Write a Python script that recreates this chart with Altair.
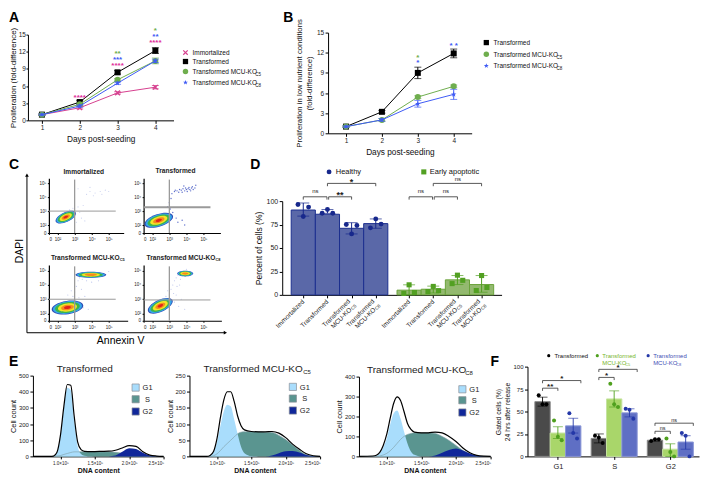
import altair as alt

FONT = "Liberation Sans"
ONE = alt.Data(values=[{"a": 1}])
W_CELL, H_CELL = 692, 465

# ---------- Panel A / B data ----------
DAYS = [1, 2, 3, 4]
A_IMM = [1, 2.2, 4.8, 5.8]
A_TR = [1, 3.2, 8.4, 12.2]
A_C5 = [1, 2.8, 7.1, 10.4]
A_C8 = [1, 2.5, 6.5, 10.4]
A_ERR_TR = [0.1, 0.3, 0.3, 0.5]
A_ERR_C5 = [0.1, 0.2, 0.2, 0.5]
A_ERR_C8 = [0.1, 0.2, 0.2, 0.3]
A_ERR_IMM = [0.1, 0.2, 0.2, 0.3]
A_STARS = [(2, 4.3, "****", "#e0309a"), (3, 9.8, "****", "#e0309a"), (3, 10.9, "***", "#3f5bf5"),
           (3, 11.9, "**", "#6fae4e"), (4, 13.9, "****", "#e0309a"), (4, 14.9, "**", "#3f5bf5"),
           (4, 16.0, "*", "#6fae4e")]

B_TR = [1, 3.2, 9.0, 11.9]
B_C5 = [1, 2.0, 5.4, 7.0]
B_C8 = [1, 2.0, 4.4, 5.8]
B_ERR_TR = [0.1, 0.2, 0.85, 0.65]
B_ERR_C5 = [0.1, 0.2, 0.2, 0.2]
B_ERR_C8 = [0.1, 0.2, 0.5, 0.75]
B_STARS = [(3, 11.5, "*", "#6fae4e"), (3, 10.7, "*", "#3f5bf5"), (4, 13.3, "* *", "#3f5bf5")]

PINK, BLACK, GREEN, BLUE = "#d6408f", "#000000", "#6fae4e", "#3f5bf5"
X_SHAPE = "M-1,-1L1,1M-1,1L1,-1"
STAR = "M0,-1.1L0.28,-0.35L1.05,-0.33L0.44,0.14L0.65,0.9L0,0.45L-0.65,0.9L-0.44,0.14L-1.05,-0.33L-0.28,-0.35Z"

# ---------- Panel C data ----------
LEVEL_COLORS = ["#2f4bb5", "#35a7e8", "#3db54a", "#f2e527", "#f58a1f", "#e2231a"]
LEVEL_SCALES = [1.0, 0.92, 0.78, 0.6, 0.4, 0.22]
# cx, cy, width (decades), aspect, tilt, levels shown
BLOBS_1 = [(2.48, 2.57, 1.29, 0.45, -25, 6)]
BLOBS_2 = [(2.38, 2.34, 1.75, 0.42, -18, 6)]
BLOBS_3 = [(2.58, 2.42, 1.87, 0.42, -8, 6), (3.95, 4.71, 1.81, 0.2, 0, 5)]
BLOBS_4 = [(2.47, 2.54, 1.58, 0.45, -25, 6), (3.93, 4.8, 0.94, 0.36, 0, 5)]
SPARSE_1 = [(3.3, 2.9), (3.5, 3.4), (3.7, 4.2), (3.9, 4.4), (4.2, 4.3), (4.5, 4.4), (4.8, 4.5), (3.2, 4.6), (3.9, 4.7),
            (3.4, 2.5), (3.6, 2.3), (3.2, 3.3), (4.1, 4.1), (4.6, 4.2), (5.0, 4.4), (2.9, 3.2), (3.1, 2.2), (2.7, 3.1)]
SPARSE_2 = [(3.15, 4.25), (3.3, 4.4), (3.35, 4.5), (3.45, 4.45), (3.55, 4.35), (3.6, 4.55), (3.7, 4.5), (3.75, 4.35),
            (3.8, 4.6), (3.9, 4.45), (3.95, 4.65), (4.0, 4.55), (4.05, 4.4), (4.1, 4.6), (4.15, 4.7), (4.2, 4.55),
            (4.25, 4.45), (4.3, 4.65), (4.35, 4.75), (4.4, 4.55), (4.5, 4.65), (4.55, 4.85), (3.85, 4.8), (3.0, 3.6),
            (3.1, 3.9), (3.2, 2.9), (3.4, 2.5), (3.5, 2.2), (3.75, 2.35), (3.9, 2.0), (2.9, 3.3), (3.05, 3.15)]
SPARSE_3 = [(3.0, 3.5), (3.1, 3.9), (3.2, 4.3), (3.3, 2.7), (3.5, 2.4), (3.6, 3.2), (2.9, 3.2), (2.8, 3.6), (2.6, 3.3),
            (3.3, 4.5), (3.45, 4.4), (5.0, 4.95), (3.8, 2.3), (3.4, 3.7), (3.7, 4.3), (4.0, 4.2), (4.4, 4.3), (3.25, 3.1)]
SPARSE_4 = [(3.0, 3.3), (3.1, 3.7), (3.2, 4.0), (3.3, 4.3), (3.4, 4.5), (3.5, 4.7), (3.6, 4.0), (3.3, 2.8), (3.55, 2.5),
            (2.9, 3.6), (3.4, 3.3), (3.7, 3.0), (3.45, 3.9), (3.25, 3.4), (3.65, 4.4), (4.0, 5.1), (3.9, 2.3), (2.8, 3.2)]

# ---------- Panel D data ----------
D_TICKS = [0.5, 1.5, 2.5, 3.5, 4.88, 5.88, 6.88, 7.88]
D_MEANS = [90.5, 86, 71, 76, 5, 6, 16, 11]
D_ERR_HI = [98, 91, 77, 81, 10.7, 9.3, 20.6, 20.6]
D_ERR_LO = [84, 87, 65, 71, 0, 2, 11, 2.8]
D_POINTS = [[96.4, 83.6, 93.6], [87, 91, 87], [75, 65, 74], [71.5, 81, 75.5],
            [1.5, 10.7, 2.5], [3.5, 9, 4.5], [12, 21, 15.5], [4.6, 20.6, 7.8]]
D_LABELS = ["Immortalized", "Transformed", None, None, "Immortalized", "Transformed", None, None]
D_SUBS = [None, None, "C5", "C8", None, None, "C5", "C8"]
D_BRACKETS = [(0.5, 1.48, 104.6), (1.55, 2.5, 104.6), (1.5, 3.5, 118.9),
              (4.88, 5.85, 104.6), (5.92, 6.88, 104.6), (5.88, 7.88, 118.9)]
D_BR_TEXT = [(1.0, 110.5, "ns", 6), (2.02, 109, "**", 9), (2.5, 122.5, "*", 9),
             (5.37, 110.5, "ns", 6), (6.4, 110.5, "ns", 6), (6.9, 124, "ns", 6)]

# ---------- Panel E data ----------
E_X = [0.6, 0.8, 0.85, 0.9, 0.95, 1.0, 1.05, 1.1, 1.15, 1.2, 1.25, 1.3, 1.35, 1.4, 1.5, 1.6, 1.7, 1.8, 1.9, 2.0, 2.1, 2.2, 2.3, 2.4, 2.5]
E1_TOT = [0, 0, 0, 2, 25, 130, 310, 445, 440, 250, 90, 42, 31, 30, 30, 31, 32, 38, 52, 66, 62, 28, 8, 2, 0]
E1_G1 = [0, 0, 0, 2, 22, 120, 295, 425, 410, 225, 65, 15, 4, 1, 0, 0, 0, 0, 0, 0, 0, 0, 0, 0, 0]
E1_S = [0, 0, 0, 0, 2, 5, 12, 18, 24, 28, 28, 28, 28, 28, 28, 28, 28, 25, 20, 15, 10, 5, 1, 0, 0]
E1_G2 = [0, 0, 0, 0, 0, 0, 0, 0, 0, 0, 0, 0, 0, 0, 0, 0, 0, 5, 28, 50, 45, 22, 6, 1, 0]
E2_TOT = [0, 0, 0, 3, 15, 55, 120, 175, 200, 200, 170, 125, 95, 82, 77, 76, 76, 77, 72, 58, 38, 22, 8, 2, 0]
E2_G1 = [0, 0, 0, 3, 12, 45, 95, 140, 160, 155, 115, 70, 30, 10, 1, 0, 0, 0, 0, 0, 0, 0, 0, 0, 0]
E2_S = [0, 0, 0, 0, 2, 8, 18, 30, 40, 50, 60, 70, 75, 76, 76, 76, 75, 74, 65, 52, 35, 18, 5, 1, 0]
E2_G2 = [0, 0, 0, 0, 0, 0, 0, 0, 0, 0, 0, 0, 0, 0, 0, 0, 0, 3, 10, 16, 17, 12, 4, 1, 0]
E3_TOT = [0, 2, 6, 20, 55, 110, 190, 265, 298, 280, 225, 165, 135, 122, 118, 118, 122, 118, 100, 75, 42, 18, 5, 1, 0]
E3_G1 = [0, 1, 4, 15, 45, 90, 160, 215, 230, 190, 125, 65, 25, 8, 0, 0, 0, 0, 0, 0, 0, 0, 0, 0, 0]
E3_S = [0, 0, 0, 2, 7, 15, 28, 45, 65, 85, 100, 110, 115, 118, 118, 118, 115, 100, 80, 55, 30, 12, 3, 0, 0]
E3_G2 = [0, 0, 0, 0, 0, 0, 0, 0, 0, 0, 0, 0, 0, 0, 0, 0, 5, 18, 32, 40, 30, 14, 4, 1, 0]

# ---------- Panel F data ----------
F_GROUP_START = [0, 3.67, 7.33]
F_GROUPS = ["G1", "S", "G2"]
F_MEANS = [[61, 26, 34], [20, 64, 48.5], [18, 8, 16]]
F_HI = [[66, 33, 42.5], [25, 73, 53], [19, 14, 23]]
F_LO = [[56, 20, 26], [15, 55, 44], [17, 0, 8]]
F_POINTS = [[[68, 58, 58], [40, 22, 18], [48, 26, 20]],
            [[23, 21, 15], [81, 58, 55], [53, 52, 42]],
            [[17, 19, 19], [20, 5, 0], [26, 23, 0]]]
F_BRACKETS = [(0.5, 1.5, 76), (0.5, 3.0, 84.5), (4.17, 5.17, 88), (4.17, 6.67, 97), (7.83, 8.83, 28), (7.83, 10.33, 37)]
F_BR_TEXT = [(1.0, 80, "**", 8), (1.75, 88.5, "*", 8), (4.67, 92, "*", 8), (5.42, 101, "*", 8), (8.33, 32, "ns", 5.5), (9.08, 41, "ns", 5.5)]

# ---------- helpers ----------
# Every panel is a page-sized cell; its scales' ranges and its axes' offsets put the plot where it belongs.
ORG = [0, 0]


def place(x0, y0):
    ORG[0], ORG[1] = x0 - 8, y0 - 8


def xrange_(w):
    return [ORG[0], ORG[0] + w]


def yrange_(h):
    return [ORG[1] + h, ORG[1]]


def axis(**kw):
    base = dict(grid=False, domainColor="black", tickColor="black", labelColor="#222222", titleColor="#111111",
                labelFont=FONT, titleFont=FONT, labelFontSize=6.5, titleFontSize=8, titleFontWeight="normal",
                tickSize=3, labelPadding=1.5, titlePadding=3, domainWidth=1, tickWidth=1)
    base.update(kw)
    return alt.Axis(**base)


def xaxis(h, **kw):
    return axis(offset=-(H_CELL - (ORG[1] + h)), **kw)


def yaxis(**kw):
    return axis(offset=-ORG[0], **kw)


def txt(x, y, text, size=6.5, color="#111111", align="left", weight="normal", angle=0, baseline="alphabetic"):
    kw = dict(text=text, fontSize=size, color=color, align=align, fontWeight=weight, font=FONT, baseline=baseline)
    if angle:
        kw["angle"] = angle
    return alt.Chart(ONE).mark_text(**kw).encode(x=alt.value(ORG[0] + x), y=alt.value(ORG[1] + y))


def sym(x, y, shape, size, color, filled=True, sw=1.2):
    return alt.Chart(ONE).mark_point(shape=shape, size=size, filled=filled, color=color, opacity=1,
                                     strokeWidth=0 if filled else sw).encode(x=alt.value(ORG[0] + x), y=alt.value(ORG[1] + y))


def hline(x1, x2, y, color="black", w=1):
    return alt.Chart(ONE).mark_rule(color=color, strokeWidth=w).encode(
        x=alt.value(ORG[0] + x1), x2=alt.value(ORG[0] + x2), y=alt.value(ORG[1] + y))


def vline(x, y1, y2, color="black", w=1):
    return alt.Chart(ONE).mark_rule(color=color, strokeWidth=w).encode(
        x=alt.value(ORG[0] + x), y=alt.value(ORG[1] + y1), y2=alt.value(ORG[1] + y2))


def lines_panel(series, stars, xs, ys, xax, yax):
    X = lambda f="x": alt.X(f + ":Q", scale=xs, axis=xax)
    Y = lambda f="y": alt.Y(f + ":Q", scale=ys, axis=yax)
    layers = []
    for vals, errs, color, shape, size, filled in series:
        rec = [dict(x=d, y=v, hi=v + e, lo=v - e) for d, v, e in zip(DAYS, vals, errs)]
        data = alt.Data(values=rec)
        layers.append(alt.Chart(data).mark_rule(color=color, strokeWidth=1).encode(x=X(), y=Y("hi"), y2=alt.Y2("lo:Q")))
        for f in ("hi", "lo"):
            layers.append(alt.Chart(data).mark_tick(color=color, orient="horizontal", size=7, thickness=1).encode(x=X(), y=Y(f)))
        layers.append(alt.Chart(data).mark_line(color=color, strokeWidth=1).encode(x=X(), y=Y()))
        layers.append(alt.Chart(data).mark_point(shape=shape, size=size, filled=filled, color=color, opacity=1,
                                                 strokeWidth=0 if filled else 1.3).encode(x=X(), y=Y()))
    rec = [dict(x=a, y=b, t=c, c=d) for a, b, c, d in stars]
    layers.append(alt.Chart(alt.Data(values=rec)).mark_text(fontSize=8, fontWeight="bold", font=FONT, dy=2).encode(
        x=X(), y=Y(), text="t:N", color=alt.Color("c:N", scale=None)))
    return layers


# ---------- Panel A ----------
place(27, 33)
A_layers = lines_panel(
    [(A_IMM, A_ERR_IMM, PINK, X_SHAPE, 22, False), (A_TR, A_ERR_TR, BLACK, "square", 36, True),
     (A_C5, A_ERR_C5, GREEN, "circle", 36, True), (A_C8, A_ERR_C8, BLUE, STAR, 26, True)],
    A_STARS,
    alt.Scale(domain=[0.63, 4.48], nice=False, zero=False, range=xrange_(146)),
    alt.Scale(domain=[0, 15], nice=False, range=yrange_(86)),
    xaxis(86, values=DAYS, title="Days post-seeding", format="d", titleFontSize=8.3, titlePadding=3),
    yaxis(values=[0, 3, 6, 9, 12, 15], title="Proliferation (fold-difference)", titlePadding=0.5, labelPadding=0.5, tickSize=2),
)
A_layers += [
    hline(-ORG[0], W_CELL - ORG[0], -ORG[1], "white", 0.01), hline(-ORG[0], W_CELL - ORG[0], H_CELL - ORG[1], "white", 0.01),
    txt(-19, -13, "A", 14, "black", weight="bold"),
    sym(158, 18, X_SHAPE, 20, PINK, False), txt(165, 20.5, "Immortalized"),
    sym(158, 27, "square", 28, BLACK), txt(165, 29.5, "Transformed"),
    sym(158, 37, "circle", 30, GREEN), txt(165, 39.5, "Transformed MCU-KO"),
    txt(228, 41.7, "C5", 4.5),
    sym(158, 48, STAR, 22, BLUE), txt(165, 50.5, "Transformed MCU-KO"),
    txt(228, 52.7, "C8", 4.5),
]
A = alt.layer(*A_layers)

# ---------- Panel B ----------
place(328, 31)
B_layers = lines_panel(
    [(B_TR, B_ERR_TR, BLACK, "square", 36, True), (B_C5, B_ERR_C5, GREEN, "circle", 36, True), (B_C8, B_ERR_C8, BLUE, STAR, 26, True)],
    B_STARS,
    alt.Scale(domain=[0.5, 4.5], nice=False, zero=False, range=xrange_(144)),
    alt.Scale(domain=[0, 15], nice=False, range=yrange_(101)),
    xaxis(101, values=DAYS, title="Days post-seeding", format="d", titleFontSize=8.3, titlePadding=3),
    yaxis(values=[0, 3, 6, 9, 12, 15], title=["Proliferation in low nutrient conditions", "(fold-difference)"],
          titleFontSize=7.8, titlePadding=3),
)
B_layers += [
    txt(-45, -11, "B", 14, "black", weight="bold"),
    sym(158.7, 10, "square", 28, BLACK), txt(166, 12.5, "Transformed"),
    sym(158.7, 21.7, "circle", 30, GREEN), txt(166, 24, "Transformed MCU-KO"),
    txt(229, 26.2, "C5", 4.5),
    sym(158.7, 33.3, STAR, 22, BLUE), txt(166, 35.5, "Transformed MCU-KO"),
    txt(229, 37.7, "C8", 4.5),
]
B = alt.layer(*B_layers)


# ---------- Panel C ----------
def ell(a):
    c = round(a * 0.55, 3)
    return f"M-1,0C-1,{-c},-.55,{-a},0,{-a}C.55,{-a},1,{-c},1,0C1,{c},.55,{a},0,{a}C-.55,{a},-1,{c},-1,0Z"


def cyt(blobs, sparse, w, h, y0, ypx, hgate, hgate_w, dot_color, dot_size, extra_fn):
    x0, xpx = 1.49, 17.1
    xdom = [x0, x0 + w / xpx]
    ydom = [y0, y0 + h / ypx]
    xs = alt.Scale(domain=xdom, nice=False, zero=False, range=xrange_(w))
    ys = alt.Scale(domain=ydom, nice=False, zero=False, range=yrange_(h))
    expr = "datum.value<1.9 ? '0' : datum.value==2 ? '10²' : datum.value==3 ? '10³' : datum.value==4 ? '10⁴' : '10⁵'"
    xa = xaxis(h, values=[x0, 2, 3, 4, 5], title=None, labelExpr=expr, labelFontSize=4.5, tickSize=1.5, labelPadding=2, domainWidth=1.2)
    ya = yaxis(values=[y0, 2, 3, 4, 5], title=None, labelExpr=expr, labelFontSize=4.5, tickSize=1.5, labelPadding=1.5, domainWidth=1.2)
    X = lambda f="x": alt.X(f + ":Q", scale=xs, axis=xa)
    Y = lambda f="y": alt.Y(f + ":Q", scale=ys, axis=ya)
    pts = alt.Data(values=[dict(x=a, y=b) for a, b in sparse])
    layers = [alt.Chart(pts).mark_point(filled=True, size=dot_size, color=dot_color, opacity=0.8, strokeWidth=0).encode(x=X(), y=Y())]
    rec = []
    for cx, cy, bw, asp, tilt, nlev in blobs:
        for col, k in list(zip(LEVEL_COLORS, LEVEL_SCALES))[:nlev]:
            rec.append(dict(x=cx, y=cy, s=(bw * k * xpx) ** 2, t=(tilt + 360) % 360, p=ell(asp), c=col))
    layers.append(alt.Chart(alt.Data(values=rec)).mark_point(filled=True, opacity=1, strokeWidth=0).encode(
        x=X(), y=Y(), size=alt.Size("s:Q", scale=None), angle=alt.Angle("t:Q", scale=None),
        shape=alt.Shape("p:N", scale=None), color=alt.Color("c:N", scale=None)))
    gate = alt.Data(values=[dict(x=3, y=ydom[0], y2=ydom[1] - 0.1, xa=xdom[0], xb=5.41, hy=hgate)])
    layers.append(alt.Chart(gate).mark_rule(color="#9a9a9a", strokeWidth=1.3).encode(x=X(), y=Y(), y2=alt.Y2("y2:Q")))
    layers.append(alt.Chart(gate).mark_rule(color="#9a9a9a", strokeWidth=hgate_w).encode(x=X("xa"), x2=alt.X2("xb:Q"), y=Y("hy")))
    return alt.layer(*(layers + extra_fn()))


place(48, 177)
C1 = cyt(BLOBS_1, SPARSE_1, 75, 55, 1.43, 14, 3.0, 1, "#b9c2ea", 1.2, lambda: [
    txt(35, -4, "Immortalized", 6.6, "#222222", "center", "bold"),
    txt(-40, -9, "C", 14, "black", weight="bold"),
])
place(143, 177)
C2 = cyt(BLOBS_2, SPARSE_2, 77, 55, 1.43, 14, 3.28, 2, "#3a4fc0", 2, lambda: [
    txt(32, -5, "Transformed", 6.6, "#222222", "center", "bold"),
])
place(48, 264)
C3 = cyt(BLOBS_3, SPARSE_3, 79, 56, 1.49, 14.3, 3.0, 1, "#a9b4e6", 1.2, lambda: [
    txt(2, -5, "Transformed MCU-KO", 6.6, "#222222", weight="bold"),
    txt(71, -3.5, "C5", 4, "#222222", weight="bold"),
    txt(-26, -14, "DAPI", 10.5, "black", "center", angle=270),
    vline(-22, -90, 68), hline(-22, 176, 68),
    sym(-22, -90, "triangle-up", 14, "black"), sym(177, 68, "triangle-right", 14, "black"),
    txt(72, 79, "Annexin V", 10.5, "black", "center"),
])
place(143, 264)
C4 = cyt(BLOBS_4, SPARSE_4, 78, 56, 1.49, 14.3, 2.95, 1, "#a9b4e6", 1.2, lambda: [
    txt(3, -5, "Transformed MCU-KO", 6.6, "#222222", weight="bold"),
    txt(72, -3.5, "C8", 4, "#222222", weight="bold"),
])

# ---------- Panel D ----------
place(282, 200)
dxs = alt.Scale(domain=[-0.372, 8.707], nice=False, zero=False, range=xrange_(220))
dys = alt.Scale(domain=[0, 100], nice=False, range=yrange_(94))
dxa = xaxis(94, values=D_TICKS, title=None, labels=False, tickSize=3)
dya = yaxis(values=[0, 25, 50, 75, 100], title="Percent of cells (%)", titleFontSize=8.5, titlePadding=3, labelFontSize=7)
DX = lambda f="x": alt.X(f + ":Q", scale=dxs, axis=dxa)
DY = lambda f="y": alt.Y(f + ":Q", scale=dys, axis=dya)
D_FILL = ["#5a68a8"] * 4 + ["#93b96f"] * 4
D_STROKE = ["#1c2f8f"] * 4 + ["#6aa33a"] * 4
D_PT = ["#17288c"] * 4 + ["#52a022"] * 4
bars = [dict(x=t - 0.5, x2=t + 0.5, y=m, hi=h, lo=l, t=t, f=f, s=s, c=c)
        for t, m, h, l, f, s, c in zip(D_TICKS, D_MEANS, D_ERR_HI, D_ERR_LO, D_FILL, D_STROKE, D_PT)]
bar_data = alt.Data(values=bars)
D_layers = [
    alt.Chart(bar_data).mark_rect(strokeWidth=1).encode(
        x=DX(), x2=alt.X2("x2:Q"), y=DY(), y2=alt.datum(0),
        fill=alt.Color("f:N", scale=None), stroke=alt.Stroke("s:N", scale=None)),
    alt.Chart(bar_data).mark_rule(strokeWidth=1).encode(x=DX("t"), y=DY("hi"), y2=alt.Y2("lo:Q"), color=alt.Color("c:N", scale=None)),
]
for f in ("hi", "lo"):
    D_layers.append(alt.Chart(bar_data).mark_tick(orient="horizontal", size=12, thickness=1).encode(
        x=DX("t"), y=DY(f), color=alt.Color("c:N", scale=None)))
pts_h, pts_a = [], []
for i, (t, vals) in enumerate(zip(D_TICKS, D_POINTS)):
    for off, v in zip((-0.22, 0, 0.22), vals):
        (pts_h if i < 4 else pts_a).append(dict(x=t + off, y=v))
D_layers.append(alt.Chart(alt.Data(values=pts_h)).mark_point(shape="circle", filled=True, size=24, color="#17288c", opacity=1, strokeWidth=0).encode(x=DX(), y=DY()))
D_layers.append(alt.Chart(alt.Data(values=pts_a)).mark_point(shape="square", filled=True, size=26, color="#52a022", opacity=1, strokeWidth=0).encode(x=DX(), y=DY()))
brd = alt.Data(values=[dict(a=a, b=b, y=y, leg=y - 3) for a, b, y in D_BRACKETS])
D_layers.append(alt.Chart(brd).mark_rule(color="#444444", strokeWidth=0.9).encode(x=DX("a"), x2=alt.X2("b:Q"), y=DY()))
D_layers.append(alt.Chart(brd).mark_rule(color="#444444", strokeWidth=0.9).encode(x=DX("a"), y=DY(), y2=alt.Y2("leg:Q")))
D_layers.append(alt.Chart(brd).mark_rule(color="#444444", strokeWidth=0.9).encode(x=DX("b"), y=DY(), y2=alt.Y2("leg:Q")))
for xv, yv, t, fs in D_BR_TEXT:
    D_layers.append(alt.Chart(alt.Data(values=[dict(x=xv, y=yv)])).mark_text(
        text=t, fontSize=fs, font=FONT, color="#222222", baseline="middle",
        fontWeight="bold" if t != "ns" else "normal", dy=2 if t != "ns" else 0).encode(x=DX(), y=DY()))
single = [dict(x=t, t=l) for t, l in zip(D_TICKS, D_LABELS) if l]
double = [dict(x=t, s=s) for t, s in zip(D_TICKS, D_SUBS) if s]
rot = dict(angle=315, fontSize=6.5, font=FONT, color="#222222", baseline="middle")
D_BOTTOM = ORG[1] + 94
D_layers += [
    alt.Chart(alt.Data(values=single)).mark_text(align="right", **rot).encode(x=DX(), y=alt.value(D_BOTTOM + 6), text="t:N"),
    alt.Chart(alt.Data(values=double)).mark_text(align="right", text="Transformed", dy=-3.5, **rot).encode(x=DX(), y=alt.value(D_BOTTOM + 8)),
    alt.Chart(alt.Data(values=double)).mark_text(align="right", text="MCU-KO", dx=-5, dy=3.5, **rot).encode(x=DX(), y=alt.value(D_BOTTOM + 8)),
    alt.Chart(alt.Data(values=double)).mark_text(align="left", dx=-4.5, dy=5, angle=315, fontSize=4.5, font=FONT, color="#222222", baseline="middle").encode(
        x=DX(), y=alt.value(D_BOTTOM + 8), text="s:N"),
    txt(-32, -32, "D", 14, "black", weight="bold"),
    sym(47, -29.3, "circle", 24, "#17288c"), txt(53.7, -27, "Healthy", 7.5),
    sym(142, -29.3, "square", 26, "#52a022"), txt(148, -27, "Early apoptotic", 7.5),
]
D = alt.layer(*D_layers)


# ---------- Panel E ----------
def dna(tot, g1, s, g2, ymax, ystep, w, h, extra):
    xs = alt.Scale(domain=[0.6, 2.5], nice=False, zero=False, range=xrange_(w))
    ys = alt.Scale(domain=[0, ymax], nice=False, range=yrange_(h))
    xa = xaxis(h, values=[1.0, 1.5, 2.0, 2.5], title="DNA content", titleFontWeight="bold", titleFontSize=7,
               labelExpr="format(datum.value,'.1f')+'×10⁵'", labelFontSize=4.5, labelPadding=2, titlePadding=1, tickSize=2.5)
    ya = yaxis(values=list(range(0, ymax + 1, ystep)), title="Cell count", titleFontSize=7.5, titlePadding=1, labelFontSize=6)
    X = alt.X("x:Q", scale=xs, axis=xa)
    Y = lambda f: alt.Y(f + ":Q", scale=ys, axis=ya)
    data = alt.Data(values=[dict(x=a, t=b, g1=c, s=d, g2=e) for a, b, c, d, e in zip(E_X, tot, g1, s, g2)])
    layers = [
        alt.Chart(data).mark_area(color="#5a9590", interpolate="monotone", opacity=1).encode(x=X, y=Y("s")),
        alt.Chart(data).mark_area(color="#a9ddfc", interpolate="monotone", opacity=1).encode(x=X, y=Y("g1")),
        alt.Chart(data).mark_line(color="#7e9ca3", strokeWidth=0.6, interpolate="monotone").encode(x=X, y=Y("s")),
        alt.Chart(data).mark_area(color="#10279a", interpolate="monotone", opacity=1).encode(x=X, y=Y("g2")),
        alt.Chart(data).mark_line(color="black", strokeWidth=1.2, interpolate="monotone").encode(x=X, y=Y("t")),
    ]
    return alt.layer(*(layers + extra))


def e_legend(x, y1, y2, y3):
    out = []
    for y, c, t, tx, al in ((y1, "#a9ddfc", "G1", x + 7, "left"), (y2, "#5a9590", "S", x + 12, "center"), (y3, "#10279a", "G2", x + 7, "left")):
        out.append(alt.Chart(ONE).mark_point(shape="square", size=52, filled=True, color=c, stroke="#8a8f96", strokeWidth=0.7, opacity=1).encode(
            x=alt.value(ORG[0] + x), y=alt.value(ORG[1] + y)))
        out.append(txt(tx, y + 2.7, t, 7.5, "#222222", al))
    return out


place(32, 375)
E1 = dna(E1_TOT, E1_G1, E1_S, E1_G2, 500, 100, 131, 81,
         [txt(52, -4, "Transformed", 10, "#222222", "center"), txt(-24, -10, "E", 14, "black", weight="bold")] + e_legend(103, 12, 23.7, 36))
place(189, 375)
E2 = dna(E2_TOT, E2_G1, E2_S, E2_G2, 250, 50, 131, 81,
         [txt(14, -4, "Transformed MCU-KO", 10, "#222222"), txt(114, -1.5, "C5", 6, "#222222")] + e_legend(103.7, 11.3, 23, 35))
place(359, 376)
E3 = dna(E3_TOT, E3_G1, E3_S, E3_G2, 400, 100, 132, 80,
         [txt(8, -4, "Transformed MCU-KO", 10, "#222222"), txt(106.5, -1.5, "C8", 6, "#222222")] + e_legend(103.7, 12.7, 23.7, 36))

# ---------- Panel F ----------
place(528, 366)
fxs = alt.Scale(domain=[-0.48, 10.7], nice=False, zero=False, range=xrange_(172))
fys = alt.Scale(domain=[0, 100], nice=False, range=yrange_(90))
F_TICKS = [s + 1.5 for s in F_GROUP_START]
fexpr = "datum.value<3 ? 'G1' : datum.value<7 ? 'S' : 'G2'"
fxa = xaxis(90, values=F_TICKS, title=None, labelExpr=fexpr, labelFontSize=7.5, labelPadding=3)
fya = yaxis(values=[0, 25, 50, 75, 100], title=["Gated cells (%)", "24 hrs after release"], titleFontSize=6.8, titlePadding=3, labelFontSize=6)
FX = lambda f="x": alt.X(f + ":Q", scale=fxs, axis=fxa)
FY = lambda f="y": alt.Y(f + ":Q", scale=fys, axis=fya)
F_FILL = ["#4a4a4a", "#a9d66a", "#5f6fc4"]
F_EDGE = ["#8a8a8a", "#c5e3a0", "#8a96d6"]
F_PT = ["#000000", "#4fa01e", "#2438a8"]
f_bars, f_pts = [], []
for g, st in enumerate(F_GROUP_START):
    for j in range(3):
        c = st + j + 0.5
        f_bars.append(dict(x=c - 0.5, x2=c + 0.5, t=c, y=F_MEANS[g][j], hi=F_HI[g][j], lo=F_LO[g][j], f=F_FILL[j], s=F_EDGE[j], c=F_PT[j]))
        for off, v in zip((-0.25, 0, 0.25), F_POINTS[g][j]):
            f_pts.append(dict(x=c + off, y=v, c=F_PT[j]))
fbd = alt.Data(values=f_bars)
fbr = alt.Data(values=[dict(a=a, b=b, y=y, leg=y - 3) for a, b, y in F_BRACKETS])
F_layers = [
    alt.Chart(fbd).mark_rect(strokeWidth=1).encode(x=FX(), x2=alt.X2("x2:Q"), y=FY(), y2=alt.datum(0),
                                                   fill=alt.Color("f:N", scale=None), stroke=alt.Stroke("s:N", scale=None)),
    alt.Chart(fbd).mark_rule(strokeWidth=0.9).encode(x=FX("t"), y=FY("hi"), y2=alt.Y2("lo:Q"), color=alt.Color("c:N", scale=None)),
    alt.Chart(fbd).mark_tick(orient="horizontal", size=10, thickness=0.9).encode(x=FX("t"), y=FY("hi"), color=alt.Color("c:N", scale=None)),
    alt.Chart(fbd).mark_tick(orient="horizontal", size=10, thickness=0.9).encode(x=FX("t"), y=FY("lo"), color=alt.Color("c:N", scale=None)),
    alt.Chart(alt.Data(values=f_pts)).mark_point(filled=True, size=16, opacity=1, strokeWidth=0).encode(x=FX(), y=FY(), color=alt.Color("c:N", scale=None)),
    alt.Chart(fbr).mark_rule(color="#333333", strokeWidth=0.8).encode(x=FX("a"), x2=alt.X2("b:Q"), y=FY()),
    alt.Chart(fbr).mark_rule(color="#333333", strokeWidth=0.8).encode(x=FX("a"), y=FY(), y2=alt.Y2("leg:Q")),
    alt.Chart(fbr).mark_rule(color="#333333", strokeWidth=0.8).encode(x=FX("b"), y=FY(), y2=alt.Y2("leg:Q")),
]
for xv, yv, t, fs in F_BR_TEXT:
    F_layers.append(alt.Chart(alt.Data(values=[dict(x=xv, y=yv)])).mark_text(
        text=t, fontSize=fs, font=FONT, color="#222222", baseline="middle",
        fontWeight="bold" if t != "ns" else "normal", dy=2 if t != "ns" else 0).encode(x=FX(), y=FY()))
F_layers += [
    txt(-37, -1, "F", 14, "black", weight="bold"),
    sym(21.3, -11, "circle", 10, "black"), txt(27, -9, "Transformed", 6),
    sym(70, -11, "circle", 10, "#4fa01e"), txt(75, -9, "Transformed", 6, "#79b62e"),
    txt(75, -2, "MCU-KO", 6, "#79b62e"), txt(98, -0.5, "C5", 4, "#79b62e"),
    sym(121, -11, "circle", 10, "#2438a8"), txt(126, -9, "Transformed", 6, "#3f4fb5"),
    txt(126, -2, "MCU-KO", 6, "#3f4fb5"), txt(149, -0.5, "C8", 4, "#3f4fb5"),
]
F = alt.layer(*F_layers)

# ---------- page: all panels are same-sized cells laid on the same origin ----------
panels = [A, B, C1, C2, C3, C4, D, E1, E2, E3, F]
cells = [p.properties(width=W_CELL, height=H_CELL) for p in panels]
chart = alt.concat(*cells, columns=len(cells), spacing=-W_CELL, align="none", bounds="flush",
                   padding={"left": 0, "right": 0, "top": 0, "bottom": 0}
                   ).configure(font=FONT, background="white").configure_view(stroke=None)
chart.save("out.html", embed_options={"renderer": "svg", "actions": False})
